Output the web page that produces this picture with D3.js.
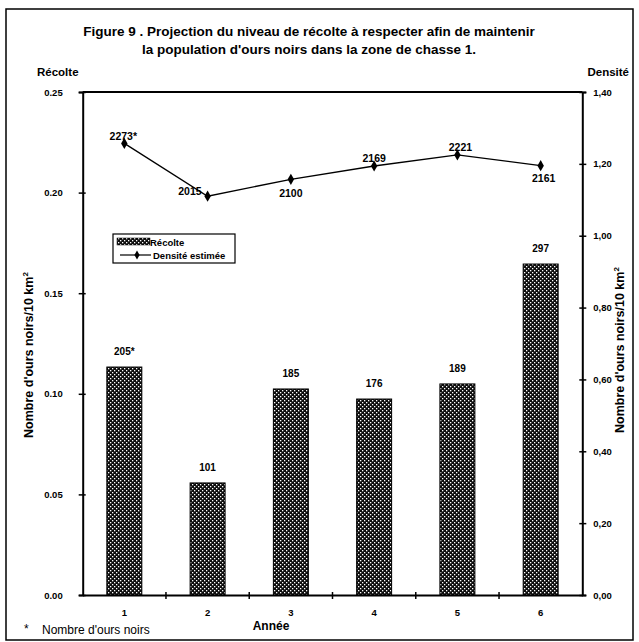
<!DOCTYPE html>
<html><head><meta charset="utf-8">
<script src="https://cdn.jsdelivr.net/npm/d3@7"></script>
<style>
body{margin:0;background:#fff;}
text{font-family:"Liberation Sans",Arial,sans-serif;fill:#000;}
</style></head>
<body><svg id="c" width="639" height="642"></svg>
<script>
const years = ["1","2","3","4","5","6"];
const harvest = [0.1133, 0.0557, 0.1024, 0.0974, 0.1049, 0.1645];
const harvestLabels = ["205*","101","185","176","189","297"];
const density = [1.257, 1.110, 1.157, 1.194, 1.225, 1.195];
const densityLabels = ["2273*","2015","2100","2169","2221","2161"];
const leftTicks = [0, 0.05, 0.10, 0.15, 0.20, 0.25];
const rightTicks = [0, 0.2, 0.4, 0.6, 0.8, 1.0, 1.2, 1.4];

const svg = d3.select("#c");
const L = 82.7, R = 582.3, T = 92, B = 595;
const x = d3.scaleBand().domain(years).range([L, R]);
const yL = d3.scaleLinear().domain([0, 0.25]).range([B, T]);
const yR = d3.scaleLinear().domain([0, 1.4]).range([B, T]);

// pattern
const defs = svg.append("defs");
const pat = defs.append("pattern").attr("id","hatch").attr("patternUnits","userSpaceOnUse")
  .attr("width",4).attr("height",4);
pat.append("rect").attr("width",4).attr("height",4).attr("fill","#0d0d0d");
pat.append("rect").attr("x",0).attr("y",0).attr("width",1.3).attr("height",1.3).attr("fill","#fff");
pat.append("rect").attr("x",2).attr("y",2).attr("width",1.3).attr("height",1.3).attr("fill","#fff");

// frame
svg.append("rect").attr("x",6).attr("y",9).attr("width",627).attr("height",631)
  .attr("fill","none").attr("stroke","#000").attr("stroke-width",1.5);

// title
svg.append("text").attr("x",309).attr("y",36).attr("text-anchor","middle")
  .attr("font-size",13.5).attr("font-weight","bold")
  .text("Figure 9 . Projection du niveau de récolte à respecter afin de maintenir");
svg.append("text").attr("x",309).attr("y",54).attr("text-anchor","middle")
  .attr("font-size",13.5).attr("font-weight","bold")
  .text("la population d'ours noirs dans la zone de chasse 1.");
svg.append("text").attr("x",37).attr("y",76).attr("font-size",11.5).attr("font-weight","bold").text("Récolte");
svg.append("text").attr("x",629).attr("y",76).attr("text-anchor","end").attr("font-size",11.5).attr("font-weight","bold").text("Densité");

// bars
const bw = x.bandwidth() * 0.42;
svg.append("g").selectAll("rect").data(harvest).join("rect")
  .attr("x",(d,i)=>x(years[i]) + x.bandwidth()/2 - bw/2)
  .attr("y",d=>yL(d)).attr("width",bw).attr("height",d=>B - yL(d))
  .attr("fill","url(#hatch)").attr("stroke","#000").attr("stroke-width",1);
svg.append("g").selectAll("text").data(harvest).join("text")
  .attr("x",(d,i)=>x(years[i]) + x.bandwidth()/2)
  .attr("y",d=>yL(d) - 12).attr("text-anchor","middle")
  .attr("font-size",10).attr("font-weight","bold")
  .text((d,i)=>harvestLabels[i]);

// axes
const axL = d3.axisLeft(yL).tickValues(leftTicks).tickFormat(d3.format(".2f")).tickSize(4);
const gL = svg.append("g").attr("transform",`translate(${L},0)`).call(axL);
const axR = d3.axisRight(yR).tickValues(rightTicks).tickFormat(d=>d3.format(".2f")(d).replace(".",",")).tickSize(4);
const gR = svg.append("g").attr("transform",`translate(${R},0)`).call(axR);
const axB = d3.axisBottom(x).tickSize(0);
const gB = svg.append("g").attr("transform",`translate(0,${B})`).call(axB);
[gL,gR,gB].forEach(g=>{
  g.select(".domain").attr("stroke","#000").attr("stroke-width",2);
  g.selectAll("text").attr("font-size",9.5).attr("font-weight","bold")
   .attr("font-family","Liberation Sans, Arial, sans-serif");
});
gL.selectAll(".tick line").attr("x2",-4).attr("x1",3).attr("stroke-width",1.5);
gL.selectAll(".tick text").attr("x",-20);
gR.selectAll(".tick line").attr("x1",-3).attr("x2",4).attr("stroke-width",1.5);
gR.selectAll(".tick text").attr("x",11);
gB.selectAll(".tick text").attr("dy",0).attr("y",21);
// category boundary ticks on x axis
svg.append("g").selectAll("line").data(years.slice(1)).join("line")
  .attr("x1",d=>x(d)).attr("x2",d=>x(d)).attr("y1",B-3).attr("y2",B+4)
  .attr("stroke","#000").attr("stroke-width",1.5);
// top border of plot
svg.append("line").attr("x1",L).attr("x2",R).attr("y1",T).attr("y2",T).attr("stroke","#000").attr("stroke-width",2);

// density line
const cx = (d,i)=> x(years[i]) + x.bandwidth()/2;
const line = d3.line().x((d,i)=>cx(d,i)).y(d=>yR(d));
svg.append("path").datum(density).attr("d",line).attr("fill","none")
  .attr("stroke","#000").attr("stroke-width",1.3);
svg.append("g").selectAll("path").data(density).join("path")
  .attr("transform",(d,i)=>`translate(${cx(d,i)},${yR(d)})`)
  .attr("d",d3.symbol(d3.symbolDiamond,36)).attr("fill","#000");
const lblPos = [{a:"middle",dx:-1,dy:-3},{a:"end",dx:-6,dy:-1},{a:"middle",dx:0,dy:18},
                {a:"middle",dx:0,dy:-4},{a:"middle",dx:3,dy:-4},{a:"middle",dx:3,dy:16}];
svg.append("g").selectAll("text").data(density).join("text")
  .attr("x",(d,i)=>cx(d,i)+lblPos[i].dx).attr("y",(d,i)=>yR(d)+lblPos[i].dy)
  .attr("text-anchor",(d,i)=>lblPos[i].a)
  .attr("font-size",10.5).attr("font-weight","bold")
  .text((d,i)=>densityLabels[i]);

// legend
const lg = svg.append("g");
lg.append("rect").attr("x",113).attr("y",234).attr("width",122).attr("height",29)
  .attr("fill","#fff").attr("stroke","#000").attr("stroke-width",1.2);
lg.append("rect").attr("x",117).attr("y",238).attr("width",33).attr("height",7)
  .attr("fill","url(#hatch)").attr("stroke","#000").attr("stroke-width",0.5);
lg.append("text").attr("x",150).attr("y",245.5).attr("font-size",9.5).attr("font-weight","bold").text("Récolte");
lg.append("line").attr("x1",120).attr("x2",151).attr("y1",255).attr("y2",255).attr("stroke","#000").attr("stroke-width",1.2);
lg.append("path").attr("transform","translate(137,255)").attr("d",d3.symbol(d3.symbolDiamond,24)).attr("fill","#000");
lg.append("text").attr("x",153).attr("y",258.5).attr("font-size",9.5).attr("font-weight","bold").text("Densité estimée");

// axis titles
svg.append("text").attr("transform","translate(33,355) rotate(-90)").attr("text-anchor","middle")
  .attr("font-size",12.5).attr("font-weight","bold").html("Nombre d'ours noirs/10 km<tspan font-size='8' dy='-5'>2</tspan>");
svg.append("text").attr("transform","translate(624,350) rotate(-90)").attr("text-anchor","middle")
  .attr("font-size",12.5).attr("font-weight","bold").html("Nombre d'ours noirs/10 km<tspan font-size='8' dy='-5'>2</tspan>");

// bottom
svg.append("text").attr("x",271).attr("y",630).attr("text-anchor","middle").attr("font-size",12).attr("font-weight","bold").text("Année");
svg.append("text").attr("x",24).attr("y",633).attr("font-size",12).text("*");
svg.append("text").attr("x",42).attr("y",634).attr("font-size",12).text("Nombre d'ours noirs");
</script></body></html>
